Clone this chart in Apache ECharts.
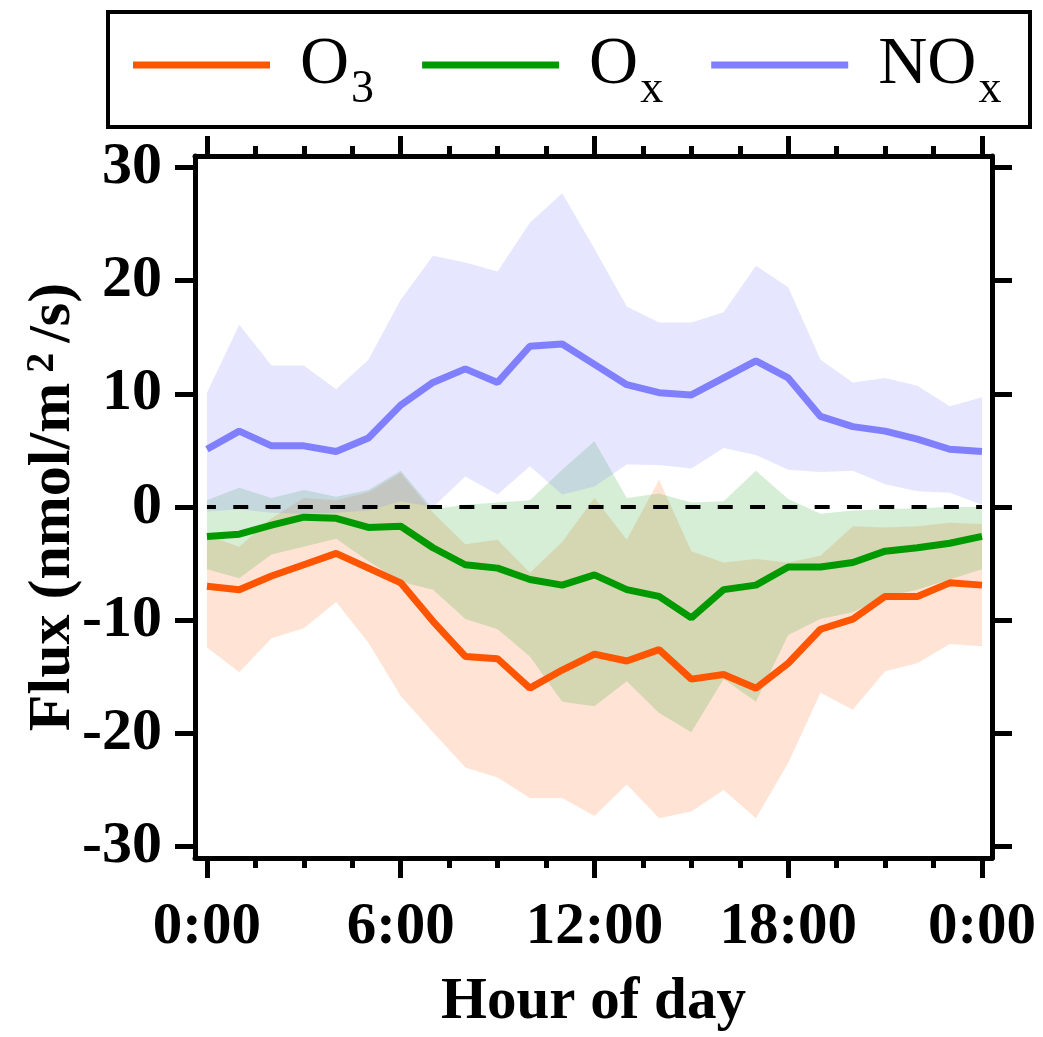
<!DOCTYPE html>
<html><head><meta charset="utf-8">
<script src="https://cdn.jsdelivr.net/npm/echarts@6/dist/echarts.min.js"></script>
<style>html,body{margin:0;padding:0;background:#fff}#c{width:1043px;height:1037px}</style>
</head><body><div id="c"></div>
<script>
const hours = [0,1,2,3,4,5,6,7,8,9,10,11,12,13,14,15,16,17,18,19,20,21,22,23,24];

const o3Mean  = [-7.0,-7.3,-6.1,-5.1,-4.1,-5.4,-6.7,-10.1,-13.2,-13.4,-16.0,-14.4,-13.0,-13.6,-12.6,-15.2,-14.8,-16.0,-13.8,-10.8,-9.9,-7.9,-7.9,-6.7,-6.9];
const o3Upper = [-2.5,-3.5,-1.0,0.8,0.6,1.3,3.0,-0.5,-3.3,-2.9,-5.8,-3.1,0.8,-2.9,2.4,-3.9,-4.9,-4.6,-4.9,-4.3,-1.7,-1.8,-1.7,-1.4,-1.5];
const o3Lower = [-12.4,-14.6,-11.6,-10.7,-8.4,-12.0,-16.7,-19.9,-23.0,-23.9,-25.7,-25.7,-27.3,-24.5,-27.5,-26.9,-25.0,-27.5,-22.6,-16.4,-17.9,-14.5,-13.8,-12.1,-12.3];

const oxMean  = [-2.6,-2.4,-1.6,-0.9,-1.0,-1.8,-1.7,-3.6,-5.1,-5.4,-6.4,-6.9,-6.0,-7.3,-7.9,-9.8,-7.3,-6.9,-5.3,-5.3,-4.9,-3.9,-3.6,-3.2,-2.6];
const oxUpper = [0.6,1.7,0.8,1.5,0.9,1.5,3.2,-0.2,0.2,0.4,0.6,3.3,5.8,0.8,1.2,0.4,0.5,3.2,0.7,-0.6,-0.3,-0.2,-0.1,0.0,0.0];
const oxLower = [-5.5,-6.3,-4.2,-3.5,-2.8,-4.8,-6.6,-7.3,-9.9,-10.8,-13.2,-17.2,-17.6,-15.4,-18.2,-19.9,-15.2,-17.2,-11.3,-9.9,-9.3,-7.9,-7.3,-6.4,-5.5];

const noxMean  = [5.1,6.7,5.4,5.4,4.9,6.1,9.0,11.0,12.2,11.0,14.2,14.4,12.6,10.8,10.1,9.9,11.4,12.9,11.4,8.0,7.1,6.7,6.0,5.1,4.9];
const noxUpper = [10.1,16.1,12.5,12.5,10.4,13.0,18.3,22.2,21.6,20.8,25.1,27.7,22.8,17.7,16.3,16.3,17.2,21.3,19.4,13.0,11.0,11.4,10.7,8.9,9.7];
const noxLower = [-0.4,-0.2,-0.5,-0.6,-0.5,-0.3,0.5,0.0,2.7,1.1,3.6,1.1,1.8,3.75,3.7,3.4,5.2,4.6,3.3,3.1,3.2,2.0,1.4,1.25,0.2];

const xLabelValues = [0,6,12,18,24];
const xMinorValues = [1.5,3,4.5,7.5,9,10.5,13.5,15,16.5,19.5,21,22.5];
const yLabelValues = [-30,-20,-10,0,10,20,30];
const zeroLineHours = [0,24];
const seriesNames = ['O3','Ox','NOx'];
const legendParts = {O3:['O','3'], Ox:['O','x'], NOx:['NO','x']};

const SERIF = 'Liberation Serif';
const X_MIN = -0.37, X_MAX = 24.31, Y_MIN = -31, Y_MAX = 31;

function pairs(vals){ return hours.map((h,i)=>[h, vals[i]]); }
function band(key, lower, upper, color){
  return {
    type:'custom', name:key+'_band', silent:true, animation:false,
    data:[[hours[0], lower[0]]],
    renderItem:function(params, api){
      const pts = [];
      for (let i=0;i<hours.length;i++) pts.push(api.coord([hours[i], upper[i]]));
      for (let i=hours.length-1;i>=0;i--) pts.push(api.coord([hours[i], lower[i]]));
      return {type:'polygon', shape:{points:pts}, style:{fill:color, stroke:null}};
    }
  };
}
function mainLine(name, vals, color){
  return {type:'line', name:name, data:pairs(vals), symbol:'none',
    itemStyle:{color:color}, lineStyle:{color:color, width:7}, silent:true, animation:false};
}

const axisLineStyle = {color:'#000', width:5};
function xAxis(pos, major, showLabel, showLine){
  return {
    type:'value', position:pos, min:X_MIN, max:X_MAX,
    axisLine:{show:showLine, onZero:false, lineStyle:axisLineStyle},
    axisTick:{show:true, inside:false, length: major?20:10, lineStyle:{color:'#000', width:5},
      customValues: major ? xLabelValues : xMinorValues},
    axisLabel:{show:showLabel, customValues:xLabelValues, margin:40,
      formatter: v => (Math.round(v)%24)+':00',
      fontFamily:SERIF, fontWeight:'bold', fontSize:59, color:'#000'},
    splitLine:{show:false}, minorTick:{show:false},
    name: (pos==='bottom' && showLabel) ? 'Hour of day' : '',
    nameLocation:'middle', nameGap:115, nameMoveOverlap:false,
    nameTextStyle:{fontFamily:SERIF, fontWeight:'bold', fontSize:59, color:'#000'}
  };
}
function yAxis(pos, showLabel){
  return {
    type:'value', position:pos, min:Y_MIN, max:Y_MAX,
    axisLine:{show:true, onZero:false, lineStyle:axisLineStyle},
    axisTick:{show:true, inside:false, length:20, lineStyle:{color:'#000', width:5}, customValues:yLabelValues},
    axisLabel:{show:showLabel, customValues:yLabelValues, margin:33,
      fontFamily:SERIF, fontWeight:'bold', fontSize:60, color:'#000'},
    splitLine:{show:false},
    name: showLabel ? 'Flux (nmol/m{sup|2}/s)' : '',
    nameLocation:'middle', nameGap:112, nameRotate:90, nameMoveOverlap:false,
    nameTextStyle:{fontFamily:SERIF, fontWeight:'bold', fontSize:60, color:'#000',
      rich:{sup:{fontFamily:SERIF, fontWeight:'bold', fontSize:40, lineHeight:40, verticalAlign:'top',
                 padding:[0,10,34,10], color:'#000'}}}
  };
}

const chart = echarts.init(document.getElementById('c'), null, {renderer:'canvas'});
chart.setOption({
  animation:false,
  backgroundColor:'#fff',
  grid:{left:195, right:51, top:156, bottom:179, containLabel:false, outerBoundsMode:'none'},
  xAxis:[ xAxis('bottom', true, true, true), xAxis('bottom', false, false, false),
          xAxis('top', true, false, true), xAxis('top', false, false, false) ],
  yAxis:[ yAxis('left', true), yAxis('right', false) ],
  legend:{
    data:seriesNames, left:128, top:26, icon:'rect', itemWidth:137, itemHeight:7, itemGap:48,
    selectedMode:false,
    formatter: n => '{m|'+legendParts[n][0]+'}{s|'+legendParts[n][1]+'}',
    textStyle:{padding:[0,0,0,25], rich:{
      m:{fontFamily:SERIF, fontSize:68, lineHeight:68, verticalAlign:'top', color:'#000'},
      s:{fontFamily:SERIF, fontSize:46, lineHeight:46, verticalAlign:'top', padding:[36,0,0,2], color:'#000'}
    }}
  },
  graphic:[{type:'rect', shape:{x:108, y:12, width:922, height:115},
            style:{fill:'none', stroke:'#000', lineWidth:4}, silent:true}],
  series:[
    {type:'line', name:'zero', data:zeroLineHours.map(h=>[h,0]), symbol:'none', silent:true,
     lineStyle:{color:'#000', width:4, type:[15,17.3], dashOffset:6}},
    band('o3', o3Lower, o3Upper, 'rgba(255,85,0,0.16)'),
    mainLine('O3', o3Mean, '#ff5500'),
    band('ox', oxLower, oxUpper, 'rgba(0,154,0,0.165)'),
    mainLine('Ox', oxMean, '#009a00'),
    band('nox', noxLower, noxUpper, 'rgba(128,128,255,0.2)'),
    mainLine('NOx', noxMean, '#8080ff')
  ]
});
</script></body></html>
